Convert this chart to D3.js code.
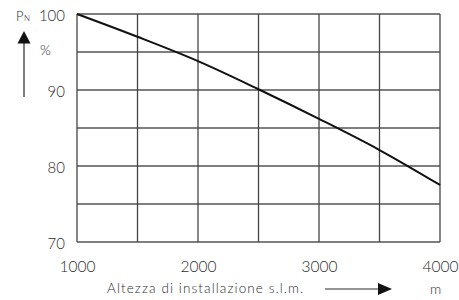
<!DOCTYPE html>
<html>
<head>
<meta charset="utf-8">
<script src="https://cdn.jsdelivr.net/npm/d3@7"></script>
<style>
  body { margin: 0; background: #fff; }
  svg { display: block; font-family: "Lato", "Open Sans", sans-serif; font-weight: 300; }
</style>
</head>
<body>
<div id="chart"></div>
<script>
const width = 459;
const height = 300;
const margin = { top: 14, right: 19, bottom: 58, left: 77 };

// altitude (m) vs rated power (%)
const altitudes = [1000, 1500, 2000, 2500, 3000, 3500, 4000];
const powerPct = [100, 97.0, 93.8, 90.1, 86.2, 82.1, 77.5];
const xTicks = [1000, 2000, 3000, 4000];
const yTicks = [70, 80, 90, 100];

const ink = "#2a2a2a";

const svg = d3.select("#chart")
  .append("svg")
  .attr("width", width)
  .attr("height", height);

const plotW = width - margin.left - margin.right;
const plotH = height - margin.top - margin.bottom;

const plot = svg.append("g").attr("transform", `translate(${margin.left},${margin.top})`);

const x = d3.scaleLinear().domain([1000, 4000]).range([0, plotW]);
const y = d3.scaleLinear().domain([70, 100]).range([plotH, 0]);

// grid
plot.append("g")
  .selectAll("line")
  .data(d3.range(70, 100.1, 5))
  .join("line")
  .attr("x1", 0).attr("x2", plotW)
  .attr("y1", d => y(d)).attr("y2", d => y(d))
  .attr("stroke", "#555").attr("stroke-width", 1.3);

plot.append("g")
  .selectAll("line")
  .data(d3.range(1000, 4000.1, 500))
  .join("line")
  .attr("x1", d => x(d)).attr("x2", d => x(d))
  .attr("y1", 0).attr("y2", plotH)
  .attr("stroke", "#444").attr("stroke-width", 1.3);

// axes (labels only)
const xAxis = plot.append("g")
  .attr("transform", `translate(0,${plotH})`)
  .call(d3.axisBottom(x).tickValues(xTicks).tickSize(0).tickPadding(19).tickFormat(d3.format("d")));
xAxis.select(".domain").remove();
xAxis.selectAll("text").attr("font-size", 15.5).attr("fill", ink)
  .attr("font-family", "Lato, sans-serif").attr("font-weight", 300);

const yAxis = plot.append("g")
  .call(d3.axisLeft(y).tickValues(yTicks).tickSize(0).tickPadding(12));
yAxis.select(".domain").remove();
yAxis.selectAll("text").attr("font-size", 15).attr("fill", ink).attr("dy", "0.45em")
  .attr("font-family", "Lato, sans-serif").attr("font-weight", 300);

// curve
const data = altitudes.map((a, i) => ({ a, p: powerPct[i] }));
plot.append("path")
  .datum(data)
  .attr("fill", "none")
  .attr("stroke", "#111")
  .attr("stroke-width", 2)
  .attr("d", d3.line().x(d => x(d.a)).y(d => y(d.p)).curve(d3.curveMonotoneX));

// y label P_N, %, arrow
const pn = svg.append("text").attr("x", 16).attr("y", 21).attr("fill", ink).attr("font-size", 13);
pn.append("tspan").text("P");
pn.append("tspan").attr("font-size", 8).attr("dx", 0.5).text("N");

svg.append("text").attr("x", 40).attr("y", 55).attr("fill", ink).attr("font-size", 14).text("%");

svg.append("line").attr("x1", 24).attr("x2", 24).attr("y1", 42).attr("y2", 97)
  .attr("stroke", ink).attr("stroke-width", 1.2);
svg.append("path").attr("d", "M24,31 L17.5,43.5 L30.5,43.5 Z").attr("fill", "#111");

// x label + arrow + unit
svg.append("text").attr("x", 107).attr("y", 293).attr("fill", ink).attr("font-size", 13.5)
  .attr("letter-spacing", 1.1)
  .text("Altezza di installazione s.l.m.");
svg.append("line").attr("x1", 325).attr("x2", 380).attr("y1", 289).attr("y2", 289)
  .attr("stroke", ink).attr("stroke-width", 1.2);
svg.append("path").attr("d", "M392,289 L378,283 L378,295 Z").attr("fill", "#111");
svg.append("text").attr("x", 430).attr("y", 294).attr("fill", ink).attr("font-size", 14).text("m");
</script>
</body>
</html>
